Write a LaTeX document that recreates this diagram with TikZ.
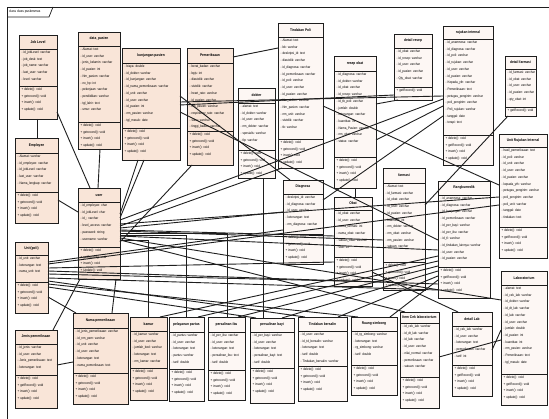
\documentclass[tikz,border=0pt]{standalone}
\usepackage{fontspec}
\newfontfamily\umlfont[FakeStretch=0.85]{Liberation Sans}
\usetikzlibrary{shadows}
\definecolor{peach}{HTML}{F9E5D8}
\definecolor{pale}{HTML}{FDF7F4}
\definecolor{ink}{HTML}{1E1E1E}
\tikzset{
  classbox/.style={draw=ink, line width=0.8pt, inner sep=0pt, outer sep=0pt,
    drop shadow={shadow xshift=1.3pt, shadow yshift=-1.3pt, fill=black!50, opacity=0.7}},
  divline/.style={draw=ink, line width=0.7pt},
  titletext/.style={font={\umlfont\bfseries\fontsize{3.8}{4}\selectfont}, inner sep=0pt},
  membertext/.style={anchor=north west, inner sep=0pt, align=left,
    font={\umlfont\fontsize{3.5}{6.7}\selectfont}},
  link/.style={draw=ink, line width=0.9pt},
}
% #1 name, #2 fill, #3 left, #4 top, #5 right, #6 bottom, #7 header line, #8 divider, #9 title
\newcommand\umlclass[9]{%
  \node[classbox, fill=#2, minimum width={#5-#3}, minimum height={#6-#4}, anchor=north west] (#1) at (#3,#4) {};
  \draw[divline] (#3,#7) -- (#5,#7);
  \draw[divline] (#3,#8) -- (#5,#8);
  \node[titletext] (#1-title) at ({(#3+#5)/2},{(#4+#7)/2}) {#9};
  \def\curname{#1}\def\curx{#3}\def\hy{#7}\def\dy{#8}%
}
% attributes, operations of the class just drawn
\newcommand\umlmembers[2]{%
  \node[membertext] (\curname-attr) at (\curx+2.5,\hy+1.8) {#1};
  \node[membertext] (\curname-ops) at (\curx+2.5,\dy+1.8) {#2};
}
\newcommand\stdops{+ delete(): void\\+ getrecord(): void\\+ insert(): void\\+ update(): void}
\newcommand\recops{+ delete(): void\\+ getRecord(): void\\+ insert(): void\\+ update(): void}
\begin{document}
\begin{tikzpicture}[x=1pt,y=-1pt]
\useasboundingbox (0,0) rectangle (549,419);
\fill[white] (0,0) rectangle (549,419);

% package frame
\draw[ink, line width=0.8pt] (549,7) -- (7,7) -- (7,419);
\draw[ink, line width=0.7pt] (7,17) -- (49,17) -- (53,7);
\node[anchor=west, inner sep=0pt, font={\umlfont\fontsize{3.6}{4}\selectfont}] (frametitle) at (9,12) {class class puskesmas};

% ---- classes ----
\umlclass{joblevel}{peach}{19}{35}{57}{119}{49}{86}{Job Level}
\umlmembers{- id\_jobLevel: varchar\\- job\_desk: text\\- job\_name: varchar\\- last\_user: varchar\\- level: varchar}{\stdops}

\umlclass{datapasien}{peach}{78}{32}{120}{149}{46}{122}{data\_pasien}
\umlmembers{- Alamat: text\\- id\_user: varchar\\- jenis\_kelamin: varchar\\- id\_pasien: int\\- Nm\_pasien: varchar\\- no\_hp: int\\- pekerjaan: varchar\\- pendidikan: varchar\\- tgl\_lahir: text\\- umur: varchar}{\stdops}

\umlclass{kunjungan}{peach}{122}{48}{180}{160}{63}{128}{kunjungan pasien}
\umlmembers{- biaya: double\\- id\_dokter: varchar\\- id\_kunjungan: varchar\\- id\_nama\_pemeriksaan: varchar\\- id\_unit: varchar\\- id\_user: varchar\\- id\_pasien: int\\- nm\_pasien: varchar\\- tgl\_masuk: date}{\stdops}

\umlclass{pemeriksaan}{peach}{187}{48}{233}{165}{63}{131}{Pemeriksaan}
\umlmembers{- berat\_badan: varchar\\- bpjs: int\\- diastolik: varchar\\- sistolik: varchar\\- heart\_rate: varchar\\- id\_pasien: varchar\\- nm\_pasien: varchar\\- respiratory\_rate: varchar\\- suhu: varchar\\- tinggi\_badan: varchar}{\stdops}

\umlclass{dokter}{pale}{238}{88}{275}{178}{103}{150}{dokter}
\umlmembers{- alamat: text\\- id\_dokter: varchar\\- id\_user: varchar\\- nm\_dokter: varchar\\- spesialis: varchar\\- tlp: varchar}{\stdops}

\umlclass{tindakanpoli}{pale}{278}{23}{323}{168}{37}{139}{Tindakan Poli}
\umlmembers{- Alamat: text\\- bb: varchar\\- deskripsi\_id: text\\- diastolik: varchar\\- id\_diagnosa: varchar\\- id\_pemeriksaan: varchar\\- id\_poli: varchar\\- id\_user: varchar\\- id\_pasien: varchar\\- Nm\_dokter: varchar\\- Nm\_pasien: varchar\\- nm\_unit: varchar\\- sistolik: varchar\\- tb: varchar}{\stdops}

\umlclass{resepobat}{pale}{334}{56}{376}{188}{71}{157}{resep obat}
\umlmembers{- id\_diagnosa: varchar\\- id\_dokter: varchar\\- id\_obat: varchar\\- id\_resep: varchar\\- id\_tb\_poli: varchar\\- jumlah: double\\- keterangan: varchar\\- kuantitas: int\\- Nama\_Pasien: varchar\\- nm\_obat: varchar\\- status: varchar}{\stdops}

\umlclass{detailresep}{pale}{394}{34}{432}{100}{48}{87}{detail resep}
\umlmembers{- id\_obat: varchar\\- id\_resep: varchar\\- id\_user: varchar\\- id\_pasien: varchar\\- Qty\_obat: varchar}{+ getRecord(): void}

\umlclass{rujukan}{pale}{443}{26}{493}{165}{39}{135}{rujukan internal}
\umlmembers{- id\_anamnesa: varchar\\- id\_diagnosa: varchar\\- id\_poli: varchar\\- id\_rujukan: varchar\\- id\_user: varchar\\- id\_pasien: varchar\\- Kepada\_yth: varchar\\- Pemeriksaan: text\\- petugas\_pengirim: varchar\\- poli\_pengirim: varchar\\- Poli\_rujukan: varchar\\- tanggal: date\\- terapi: text}{\recops}

\umlclass{detailfarmasi}{pale}{505}{56}{536}{116}{69}{107}{detail farmasi}
\umlmembers{- id\_farmasi: varchar\\- id\_obat: varchar\\- id\_user: varchar\\- id\_pasien: varchar\\- qty\_obat: int}{+ getRecord(): void}

\umlclass{unitrujukan}{pale}{499}{134}{547}{258}{147}{227}{Unit Rujukan Internal}
\umlmembers{- hasil\_pemeriksaan: text\\- id\_poli: varchar\\- id\_unit: varchar\\- id\_user: varchar\\- id\_pasien: varchar\\- kepada\_yth: varchar\\- petugas\_pengirim: varchar\\- poli\_pengirim: varchar\\- poli\_unit: varchar\\- tanggal: date\\- tindakan: text}{\recops}

\umlclass{rangkumedik}{pale}{438}{181}{490}{298}{195}{267}{Rangkumedik}
\umlmembers{- id\_anamnesa: varchar\\- id\_diagnosa: varchar\\- id\_kunjungan: varchar\\- id\_pemeriksaan: varchar\\- id\_per\_bayi: varchar\\- id\_per\_ibu: varchar\\- id\_tl: varchar\\- id\_tindakan\_lainnya: varchar\\- id\_user: varchar\\- id\_pasien: varchar}{\recops}

\umlclass{laboratorium}{pale}{501}{271}{547}{405}{285}{374}{Laboratorium}
\umlmembers{- alamat: text\\- id\_cek\_lab: varchar\\- id\_dokter: varchar\\- id\_dt\_lab: varchar\\- id\_lab: varchar\\- id\_user: varchar\\- jumlah: double\\- id\_pasien: int\\- kuantitas: int\\- nm\_pasien: varchar\\- Pemeriksaan: text\\- tgl\_masuk: date}{\recops}

\umlclass{detaillab}{pale}{452}{312}{492}{396}{326}{365}{detail Lab}
\umlmembers{- id\_cek\_lab: varchar\\- id\_user: varchar\\- keterangan: text\\- pemeriksaan: varchar\\- tarif: int}{\recops}

\umlclass{itemcek}{pale}{400}{312}{439}{408}{323}{377}{Item Cek laboratorium}
\umlmembers{- id\_cek\_lab: varchar\\- id\_dt\_lab: varchar\\- id\_lab: varchar\\- id\_user: varchar\\- nilai\_normal: varchar\\- pemeriksaan: varchar\\- satuan: varchar}{\stdops}

\umlclass{ruang}{pale}{351}{317}{397}{395}{331}{365}{Ruang simbong}
\umlmembers{- id\_rg\_simbong: varchar\\- keterangan: text\\- rg\_simbong: varchar\\- tarif: double}{\stdops}

\umlclass{tindakanbersalin}{pale}{298}{317}{347}{401}{331}{366}{Tindakan bersalin}
\umlmembers{- id\_user: varchar\\- id\_td\_bersalin: varchar\\- keterangan: text\\- tarif: double\\- Tindakan\_bersalin: varchar}{\stdops}

\umlclass{persalinanbayi}{pale}{250}{318}{294}{403}{332}{368}{persalinan bayi}
\umlmembers{- id\_per\_bayi: varchar\\- id\_user: varchar\\- keterangan: text\\- persalinan\_bayi: text\\- tarif: double}{\stdops}

\umlclass{persalinanibu}{pale}{208}{317}{245}{400}{332}{370}{persalinan ibu}
\umlmembers{- id\_per\_ibu: varchar\\- id\_user: varchar\\- keterangan: text\\- persalinan\_ibu: text\\- tarif: double}{\stdops}

\umlclass{partus}{pale}{169}{317}{204}{401}{332}{369}{pelayanan partus}
\umlmembers{- id\_partus: varchar\\- id\_user: varchar\\- keterangan: text\\- partus: varchar\\- tarif: double}{\stdops}

\umlclass{kamar}{peach}{130}{317}{167}{400}{331}{368}{kamar}
\umlmembers{- id\_kamar: varchar\\- id\_user: varchar\\- jumlah\_bed: varchar\\- keterangan: text\\- nm\_kamar: varchar}{\stdops}

\umlclass{namapem}{peach}{73}{313}{128}{404}{328}{373}{Nama pemeriksaan}
\umlmembers{- id\_jenis\_pemeriksaan: varchar\\- id\_nm\_pem: varchar\\- id\_unit: varchar\\- id\_user: varchar\\- keterangan: text\\- nama\_pemeriksaan: text}{\stdops}

\umlclass{jenispem}{peach}{15}{330}{57}{408}{344}{375}{Jenis pemeriksaan}
\umlmembers{- id\_jenis: varchar\\- id\_user: varchar\\- Jenis\_pemeriksaan: text\\- keterangan: text}{\recops}

\umlclass{unitpoli}{peach}{15}{242}{48}{313}{255}{282}{Unit(poli)}
\umlmembers{- id\_unit: varchar\\- keterangan: text\\- nama\_unit: text}{\stdops}

\umlclass{employee}{peach}{15}{138}{58}{223}{153}{192}{Employee}
\umlmembers{- Alamat: varchar\\- id\_employee: varchar\\- id\_jobLevel: varchar\\- last\_user: varchar\\- Nama\_lengkap: varchar}{\stdops}

\umlclass{user}{peach}{78}{188}{120}{279}{202}{247}{user}
\umlmembers{- id\_employee: char\\- id\_jobLevel: char\\- id\_: varchar\\- level\_access: varchar\\- password: string\\- username: varchar}{+ delete(): void\\+ getRecord(): void\\+ insert(): void\\+ Update(): void}

\umlclass{diagnosa}{pale}{283}{180}{323}{264}{194}{234}{Diagnosa}
\umlmembers{- deskripsi\_id: varchar\\- id\_diagnosa: varchar\\- id\_user: varchar\\- keterangan: text\\- nm\_diagnosa: varchar}{\stdops}

\umlclass{obat}{pale}{334}{197}{372}{286}{210}{257}{Obat}
\umlmembers{- id\_obat: varchar\\- id\_user: varchar\\- nama\_farmasi: int\\- nama\_obat: varchar\\- satuan\_obat: varchar\\- stok: int}{\stdops}

\umlclass{farmasi}{pale}{383}{168}{425}{290}{183}{262}{farmasi}
\umlmembers{- Alamat: text\\- id\_farmasi: varchar\\- id\_obat: varchar\\- id\_user: varchar\\- id\_pasien: varchar\\- kuantitas: int\\- nm\_dokter: varchar\\- nm\_obat: varchar\\- nm\_pasien: varchar\\- satuan: varchar}{\stdops}

% ---- associations ----
% upper left
\draw[link] (joblevel.south -| 37,0) -- (employee.north -| 37,0);
\draw[link] (joblevel.east |- 0,112) -- (user.north -| 90,0);
\draw[link] (employee.east |- 0,200) -- (user.west |- 0,212);
\draw[link] (datapasien.south -| 100,0) -- (user.north -| 98,0);
\draw[link] (kunjungan.south -| 138,0) -- (user.east |- 0,214);
\draw[link] (kunjungan.south -| 144,0) -- (user.east |- 0,218);
\draw[link] (pemeriksaan.east |- 0,57) -- (tindakanpoli.west |- 0,48);
% long links across the top half
\draw[link] (kunjungan.east |- 0,102) -- (rujukan.west |- 0,96);
\draw[link] (kunjungan.east |- 0,105) -- (detailresep.west |- 0,95);
\draw[link] (resepobat.east |- 0,104) -- (detailresep.south -| 398,0);
\draw[link] (kunjungan.east |- 0,112) -- (rangkumedik.west |- 0,240);
\draw[link] (kunjungan.east |- 0,96) -- (diagnosa.north -| 290,0);
\draw[link] (detailfarmasi.south -| 508,0) -- (farmasi.east |- 0,205);
\draw[link] (tindakanpoli.east |- 0,106) -- (unitrujukan.west |- 0,185);
\draw[link] (rujukan.west |- 0,116) -- (diagnosa.east |- 0,200);
\draw[link] (rujukan.west |- 0,106) -- (resepobat.east |- 0,140);
\draw[link] (resepobat.south -| 355,0) -- (obat.north -| 355,0);
% links that meet at user
\draw[link] (rujukan.west |- 0,99) -- (user.east |- 0,220);
\draw[link] (unitrujukan.west |- 0,197) -- (user.east |- 0,224);
\draw[link] (tindakanpoli.south -| 282,0) -- (user.east |- 0,226);
\draw[link] (diagnosa.west |- 0,212) -- (user.east |- 0,228);
\draw[link] (obat.west |- 0,236) -- (user.east |- 0,230);
\draw[link] (farmasi.west |- 0,240) -- (user.east |- 0,231);
\draw[link] (rangkumedik.west |- 0,250) -- (user.east |- 0,236);
\draw[link] (laboratorium.west |- 0,300) -- (user.east |- 0,238);
\draw[link] (itemcek.north -| 405,0) -- (user.east |- 0,240);
\draw[link] (pemeriksaan.south -| 192,0) -- (user.east |- 0,242);
\draw[link] (user.east |- 0,240) -| (kamar.north -| 148,0);
\draw[link] (user.east |- 0,235) -| (partus.north -| 186,0);
\draw[link] (user.east |- 0,233) -| (persalinanibu.north -| 227,0);
\draw[link] (dokter.south -| 263,0) -- (persalinanbayi.north -| 263,0);
% links from Unit(poli) across the middle
\draw[link] (unitpoli.east |- 0,262) -- (diagnosa.west |- 0,230);
\draw[link] (unitpoli.east |- 0,264) -- (unitrujukan.west |- 0,205);
\draw[link] (unitpoli.east |- 0,268) -- (obat.west |- 0,262);
\draw[link] (unitpoli.east |- 0,271) -- (rangkumedik.west |- 0,284);
\draw[link] (unitpoli.east |- 0,274) -- (farmasi.west |- 0,282);
\draw[link] (unitpoli.east |- 0,278) -- (rangkumedik.west |- 0,290);
\draw[link] (tindakanbersalin.north -| 305,0) -- (unitpoli.east |- 0,281);
\draw[link] (ruang.north -| 358,0) -- (unitpoli.east |- 0,284);
\draw[link] (persalinanbayi.north -| 256,0) -- (unitpoli.east |- 0,287);
% lower row to Rangkumedik and the laboratory group
\draw[link] (kamar.north -| 160,0) -- (rangkumedik.west |- 0,256);
\draw[link] (partus.north -| 198,0) -- (rangkumedik.west |- 0,261);
\draw[link] (persalinanibu.north -| 238,0) -- (rangkumedik.west |- 0,266);
\draw[link] (persalinanbayi.north -| 282,0) -- (rangkumedik.west |- 0,271);
\draw[link] (tindakanbersalin.north -| 338,0) -- (rangkumedik.west |- 0,276);
\draw[link] (ruang.north -| 390,0) -- (rangkumedik.west |- 0,280);
\draw[link] (detaillab.north -| 458,0) -- (obat.east |- 0,272);
\draw[link] (itemcek.east |- 0,357) -- (laboratorium.west |- 0,340);
\draw[link] (detaillab.east |- 0,350) -- (laboratorium.west |- 0,330);
% bottom left
\draw[link] (jenispem.east |- 0,365) -- (namapem.west |- 0,362);
\draw[link] (unitpoli.east |- 0,297) -- (namapem.north -| 76,0);
\draw[link] (user.south -| 80,0) -- (jenispem.north -| 53,0);
\draw[link] (user.south -| 116,0) -- (namapem.north -| 112,0);
\end{tikzpicture}
\end{document}
